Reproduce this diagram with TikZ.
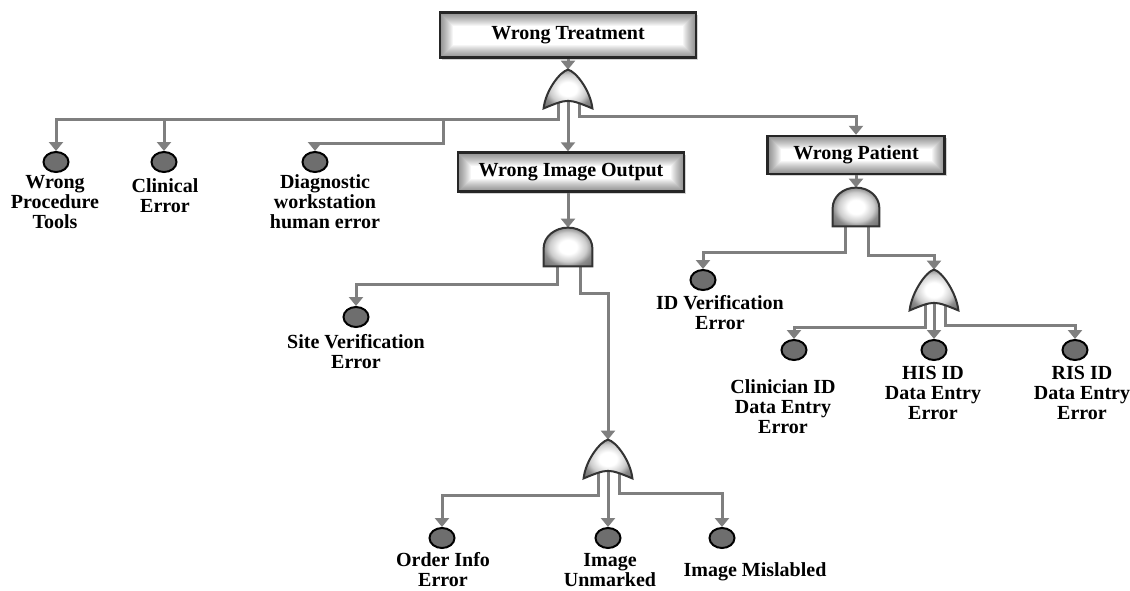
\documentclass[tikz,border=0pt]{standalone}
\usepackage{fontspec}
\setmainfont{Liberation Serif}
\usetikzlibrary{arrows.meta,shapes.geometric,shadows}
\definecolor{wire}{HTML}{7F7F7F}
\definecolor{evgray}{HTML}{6E6E6E}
\pgfdeclareradialshading{glow}{\pgfpoint{0bp}{0bp}}{color(0bp)=(white); color(9bp)=(white); color(19bp)=(black!20); color(25bp)=(black!45); color(36bp)=(black!60); color(50bp)=(black!60)}

\begin{document}
\begin{tikzpicture}[x=0.5pt,y=-0.5pt,font=\fontsize{10}{10}\selectfont\bfseries,
  topbox/.style={draw=black!85,line width=1.2pt,fill=white,inner sep=0pt,drop shadow={shadow xshift=1pt,shadow yshift=-1pt,opacity=0.35},
    path picture={\foreach \w in {1,...,13}{\draw[black,opacity=0.04,line width=\w pt] (path picture bounding box.south west) rectangle (path picture bounding box.north east);}}},
  gate/.style={inner sep=0pt,minimum width=24pt,minimum height=19pt},
  gatefill/.style={draw=black!80,line width=1pt,shade,shading=glow},
  evt/.style={ellipse,draw=black,line width=1pt,fill=evgray,inner sep=0pt,minimum width=12.5pt,minimum height=10pt},
  lbl/.style={align=center,inner sep=0pt},
  arr/.style={-{Triangle[width=7pt,length=4.5pt]},draw=wire,line width=1.5pt}]
\useasboundingbox (0,0) rectangle (1130,590);
% boxes
\node[topbox,minimum width=128pt,minimum height=22.5pt] (treat) at (568,35) {Wrong Treatment};
\node[topbox,minimum width=113pt,minimum height=19.5pt] (imgout) at (571,172) {Wrong Image Output};
\node[topbox,minimum width=88.5pt,minimum height=19pt] (patient) at (856,155) {Wrong Patient};
% gates
\node[gate] (orTreat) at (568,89) {};
\node[gate] (andImg) at (568,247) {};
\node[gate] (orImg) at (608,459) {};
\node[gate,minimum width=23pt] (andPat) at (856,207) {};
\node[gate,minimum height=20pt] (orPat) at (934,290) {};
% basic events
\node[evt] (wpt) at (56,162) {};
\node[evt] (clin) at (164,162) {};
\node[evt] (diag) at (315,162) {};
\node[evt] (site) at (356,317) {};
\node[evt] (idver) at (703,280) {};
\node[evt] (clinid) at (794,350) {};
\node[evt] (hisid) at (934,350) {};
\node[evt] (risid) at (1075,350) {};
\node[evt] (order) at (442,538) {};
\node[evt] (unmark) at (608,538) {};
\node[evt] (mislab) at (722,538) {};
% labels
\node[lbl] (wpt-t) at (55,202) {Wrong\\Procedure\\Tools};
\node[lbl] (clin-t) at (165,196) {Clinical\\Error};
\node[lbl] (diag-t) at (325,202) {Diagnostic\\workstation\\human error};
\node[lbl] (site-t) at (356,352) {Site Verification\\Error};
\node[lbl] (idver-t) at (720,313) {ID Verification\\Error};
\node[lbl] (clinid-t) at (783,407) {Clinician ID\\Data Entry\\Error};
\node[lbl] (hisid-t) at (933,393) {HIS ID\\Data Entry\\Error};
\node[lbl] (risid-t) at (1082,393) {RIS ID\\Data Entry\\Error};
\node[lbl] (order-t) at (443,570) {Order Info\\Error};
\node[lbl] (unmark-t) at (610,570) {Image\\Unmarked};
\node[lbl] (mislab-t) at (755,572) {Image Mislabled};
% connectors
\coordinate (jB) at (443,119);
\draw[arr] (treat) -- (orTreat);
\draw[arr] ([xshift=-5pt]orTreat.center) -- ([xshift=-5pt]orTreat.south) -- ++(0,11) coordinate (jA) -| (wpt);
\draw[arr] (jA -| clin) -- (clin);
\draw[arr] (jB) -- ++(0,24) -| (diag);
\draw[arr] (orTreat.center) -- (orTreat.south |- imgout.north);
\draw[arr] ([xshift=5.5pt]orTreat.center) -- ([xshift=5.5pt]orTreat.south) -- ++(0,8) -| (patient);
\draw[arr] (andImg.north |- imgout.south) -- (andImg.north);
\draw[arr] ([xshift=-5.5pt]andImg.center) -- ([xshift=-5.5pt]andImg.south) -- ++(0,18) -| (site);
\draw[arr] ([xshift=6pt]andImg.center) -- ([xshift=6pt]andImg.south) -- ++(0,27) -| (orImg);
\draw[arr] ([xshift=-5pt]orImg.center) -- ([xshift=-5pt]orImg.south) -- ++(0,17) -| (order);
\draw[arr] (orImg.center) -- (unmark);
\draw[arr] ([xshift=5.5pt]orImg.center) -- ([xshift=5.5pt]orImg.south) -- ++(0,15) -| (mislab);
\draw[arr] (patient) -- (andPat);
\draw[arr] ([xshift=-5.5pt]andPat.center) -- ([xshift=-5.5pt]andPat.south) -- ++(0,26) -| (idver);
\draw[arr] ([xshift=6pt]andPat.center) -- ([xshift=6pt]andPat.south) -- ++(0,29) -| (orPat);
\draw[arr] ([xshift=-4.5pt]orPat.center) -- ([xshift=-4.5pt]orPat.south) -- ++(0,17) -| (clinid);
\draw[arr] (orPat.center) -- (hisid);
\draw[arr] ([xshift=5.5pt]orPat.center) -- ([xshift=5.5pt]orPat.south) -- ++(0,15) -| (risid);
% gate shapes on top of the wires
\foreach \g in {orTreat,orImg,orPat}{
  \path[gatefill] (\g.south west) .. controls ([xshift=1pt,yshift=9pt]\g.south west) and ([xshift=-4pt,yshift=-1pt]\g.north) .. (\g.north)
    .. controls ([xshift=4pt,yshift=-1pt]\g.north) and ([xshift=-1pt,yshift=9pt]\g.south east) .. (\g.south east)
    .. controls ([yshift=5pt]\g.south) .. (\g.south west) -- cycle;
}
\foreach \g in {andImg,andPat}{
  \path[gatefill] (\g.south west) -- ([yshift=9pt]\g.south west) .. controls ([yshift=-4.5pt]\g.north west) and ([xshift=-6.5pt]\g.north) .. (\g.north)
    .. controls ([xshift=6.5pt]\g.north) and ([yshift=-4.5pt]\g.north east) .. ([yshift=9pt]\g.south east) -- (\g.south east) -- cycle;
}
\end{tikzpicture}
\end{document}
